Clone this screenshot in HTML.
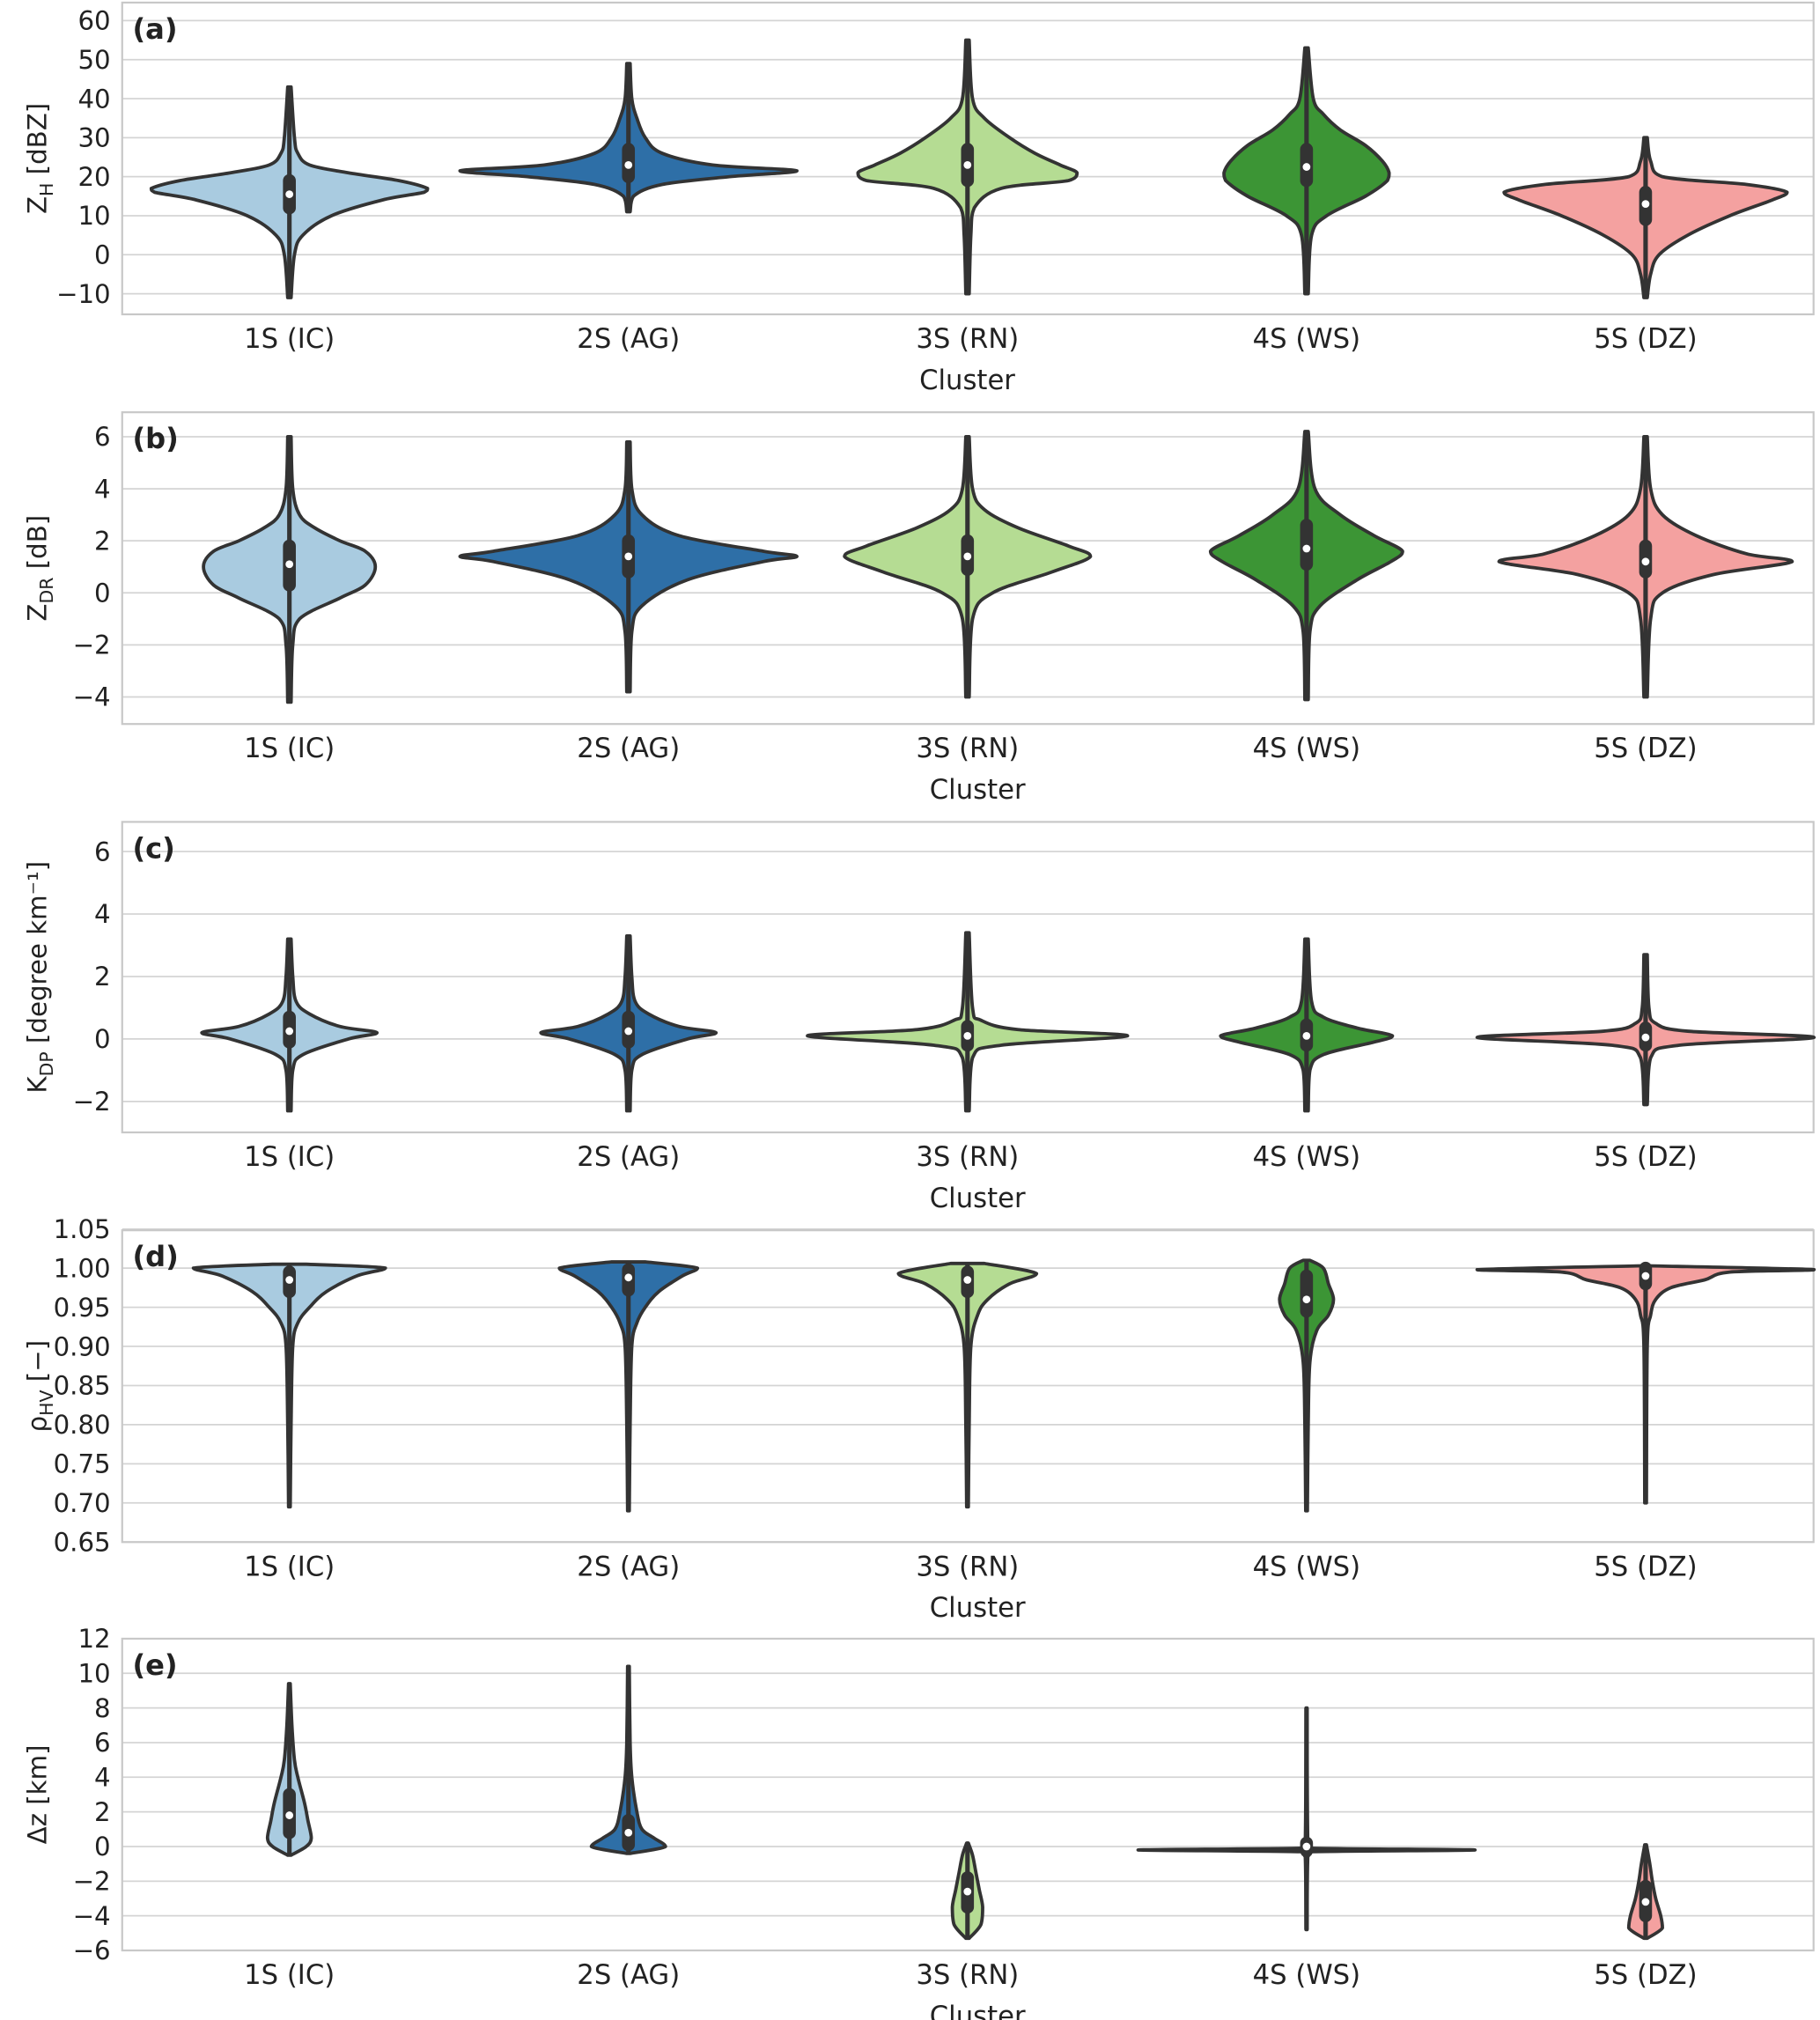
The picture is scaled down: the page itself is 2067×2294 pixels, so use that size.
<!DOCTYPE html>
<html><head><meta charset="utf-8"><style>
html,body{margin:0;padding:0;background:#fff}
svg{display:block}
text{font-family:"DejaVu Sans","Liberation Sans",sans-serif;fill:#222}
</style></head><body>
<svg id="chart" width="2067" height="2294" viewBox="0 0 1415 1568" preserveAspectRatio="none" xmlns="http://www.w3.org/2000/svg"></svg>
<script>
const categories = ["1S (IC)","2S (AG)","3S (RN)","4S (WS)","5S (DZ)"];
const colors = ["#a9cbe0","#2e6fa7","#b5dc93","#3c9535","#f4a1a0"];
const ticksA = [60,50,40,30,20,10,0,-10];
const ticksB = [6,4,2,0,-2,-4];
const ticksC = [6,4,2,0,-2];
const ticksD = [1.05,1.00,0.95,0.90,0.85,0.80,0.75,0.70,0.65];
const ticksE = [12,10,8,6,4,2,0,-2,-4,-6];
const profA = [
 [[-11,.01],[0,.03],[5,.08],[10,.25],[14,.55],[16,.8],[17,.82],[19,.65],[21,.35],[23,.12],[26,.05],[30,.03],[43,.01]],
 [[11,.01],[15,.03],[18,.2],[20,.6],[21.5,1],[23,.5],[26,.2],[30,.1],[35,.05],[40,.02],[49,.01]],
 [[-10,.01],[5,.02],[12,.04],[17,.2],[19,.6],[21,.65],[23,.55],[26,.4],[30,.25],[35,.1],[40,.03],[55,.01]],
 [[-10,.01],[5,.03],[10,.12],[15,.35],[19,.48],[21,.49],[24,.45],[28,.35],[32,.2],[36,.1],[40,.04],[53,.01]],
 [[-11,.01],[-5,.03],[0,.08],[5,.25],[10,.5],[14,.75],[16,.84],[18,.6],[20,.1],[24,.03],[30,.01]]];
const boxA = [[-11,12,15.5,19,43],[11,20,23,27,49],[-10,19,23,27,55],[-10,19,22.5,27,53],[-11,9,13,16,30]];
const profB = [
 [[-4.2,.01],[-2,.02],[-1,.06],[-.2,.3],[.3,.45],[1,.51],[1.6,.45],[2,.3],[2.5,.15],[3,.06],[4,.02],[6,.01]],
 [[-3.8,.01],[-1.5,.02],[-.5,.08],[.5,.35],[1.2,.8],[1.4,1],[1.6,.8],[2.2,.3],[3,.08],[4,.02],[5.8,.01]],
 [[-4,.01],[-1,.03],[0,.15],[.8,.5],[1.4,.73],[1.8,.6],[2.5,.3],[3.2,.1],[4,.03],[6,.01]],
 [[-4.1,.01],[-1.5,.02],[-.5,.08],[.5,.3],[1.2,.5],[1.6,.57],[2.2,.4],[3,.2],[4,.05],[6.2,.01]],
 [[-4,.01],[-1,.03],[0,.1],[.7,.4],[1.2,.87],[1.5,.6],[2.2,.3],[3,.1],[4,.03],[6,.01]]];
const boxB = [[-4.2,.3,1.1,1.8,6],[-3.8,.8,1.4,2,5.8],[-4,.9,1.4,2,6],[-4.1,1.1,1.7,2.6,6.2],[-4,.8,1.2,1.8,6]];
const profC = [
 [[-2.3,.01],[-1,.02],[-.5,.08],[0,.35],[.2,.52],[.4,.3],[.8,.12],[1.2,.04],[2,.02],[3.2,.01]],
 [[-2.3,.01],[-1,.02],[-.5,.08],[0,.35],[.2,.52],[.4,.3],[.8,.12],[1.2,.04],[2,.02],[3.3,.01]],
 [[-2.3,.01],[-.6,.03],[-.2,.2],[.1,.95],[.3,.3],[.6,.08],[1,.03],[3.4,.01]],
 [[-2.3,.01],[-1,.02],[-.5,.1],[-.1,.4],[.1,.51],[.35,.3],[.7,.1],[1.2,.03],[3.2,.01]],
 [[-2.1,.01],[-.6,.03],[-.2,.2],[.05,1],[.25,.25],[.5,.06],[1,.02],[2.7,.01]]];
const boxC = [[-2.3,-.1,.25,.7,3.2],[-2.3,-.1,.25,.7,3.3],[-2.3,-.2,.1,.4,3.4],[-2.3,-.2,.1,.45,3.2],[-2.1,-.2,.05,.35,2.7]];
const profD = [
 [[.695,.005],[.8,.01],[.9,.02],[.93,.05],[.95,.12],[.97,.22],[.99,.4],[1,.57],[1.005,.1]],
 [[.69,.005],[.8,.01],[.9,.02],[.93,.05],[.95,.1],[.97,.18],[.99,.32],[1,.41],[1.008,.1]],
 [[.695,.005],[.8,.01],[.9,.02],[.94,.06],[.96,.12],[.98,.25],[.993,.41],[1.006,.1]],
 [[.69,.005],[.8,.01],[.88,.02],[.92,.06],[.94,.13],[.96,.16],[.98,.13],[1,.1],[1.01,.02]],
 [[.7,.005],[.9,.01],[.94,.03],[.96,.06],[.975,.15],[.985,.35],[.995,.5],[.998,1],[1.003,.02]]];
const boxD = [[.695,.97,.985,.995,1.005],[.69,.972,.988,.998,1.008],[.695,.97,.985,.995,1.006],[.69,.945,.96,.99,1.01],[.7,.98,.99,1,1.003]];
const profE = [
 [[-.5,.01],[0,.1],[.5,.13],[1.5,.11],[2.5,.09],[4,.05],[5,.03],[7,.015],[9.4,.005]],
 [[-.4,.01],[0,.22],[.5,.15],[1,.08],[2,.05],[4,.02],[6,.01],[10.4,.005]],
 [[-5.3,.01],[-4.5,.08],[-3.5,.09],[-2.5,.07],[-1.5,.05],[-.5,.03],[.2,.005]],
 [[-4.8,.003],[-.5,.008],[-.3,.03],[-.2,1],[-.1,.03],[.1,.008],[8,.003]],
 [[-5.3,.01],[-4.7,.1],[-4,.09],[-3,.06],[-2,.04],[-1,.025],[.1,.005]]];
const boxE = [[-.5,.8,1.8,3,9.4],[-.4,.1,.8,1.5,10.4],[-5.3,-3.5,-2.6,-1.8,.2],[-4.8,-.25,0,.2,8],[-5.3,-4,-3.2,-2.3,.1]];

const panels = [
 {id:"a",top:2,bot:244,v1:60,p1:16,v2:-10,p2:228,ticks:ticksA,fmt:v=>v<0?"\u2212"+(-v):""+v,prof:profA,box:boxA,ylab:["Z","H"," [dBZ]"]},
 {id:"b",top:320,bot:562,v1:6,p1:339,v2:-4,p2:541,ticks:ticksB,fmt:v=>v<0?"\u2212"+(-v):""+v,prof:profB,box:boxB,ylab:["Z","DR"," [dB]"]},
 {id:"c",top:638,bot:879,v1:6,p1:661,v2:-2,p2:855,ticks:ticksC,fmt:v=>v<0?"\u2212"+(-v):""+v,prof:profC,box:boxC,ylab:["K","DP"," [degree km\u207B\u00B9]"]},
 {id:"d",top:955,bot:1197,v1:1.05,p1:954,v2:0.65,p2:1197,ticks:ticksD,fmt:v=>v.toFixed(2),prof:profD,box:boxD,ylab:["\u03C1","HV"," [\u2212]"]},
 {id:"e",top:1272,bot:1514,v1:12,p1:1272,v2:-6,p2:1514,ticks:ticksE,fmt:v=>v<0?"\u2212"+(-v):""+v,prof:profE,box:boxE,ylab:["\u0394z [km]","",""]}
];
const svg=document.getElementById("chart");
const NS="http://www.w3.org/2000/svg";
function mk(t,a,p){const e=document.createElementNS(NS,t);for(const k in a)e.setAttribute(k,a[k]);(p||svg).appendChild(e);return e;}
const X0=95,X1=1410;
const xScale=i=>225+i*263.6;
const HW=131;
function clamp(v,a,b){const lo=Math.min(a,b),hi=Math.max(a,b);return Math.max(lo,Math.min(hi,v));}
function smooth(pts){
 let d="M"+pts[0][0]+","+pts[0][1];
 for(let i=0;i<pts.length-1;i++){
  const p0=pts[Math.max(0,i-1)],p1=pts[i],p2=pts[i+1],p3=pts[Math.min(pts.length-1,i+2)];
  const c1=[clamp(p1[0]+(p2[0]-p0[0])/6,p1[0],p2[0]),p1[1]+(p2[1]-p0[1])/6];
  const c2=[clamp(p2[0]-(p3[0]-p1[0])/6,p1[0],p2[0]),p2[1]-(p3[1]-p1[1])/6];
  d+=" C"+c1[0]+","+c1[1]+" "+c2[0]+","+c2[1]+" "+p2[0]+","+p2[1];
 }
 return d;
}
panels.forEach(P=>{
 const y=v=>P.p1+(v-P.v1)*(P.p2-P.p1)/(P.v2-P.v1);
 const g=mk("g",{});
 
 
 P.ticks.forEach(t=>{
  const l=mk("line",{x1:X0,x2:X1,y1:y(t),y2:y(t),stroke:"#d4d4d4","stroke-width":1.2},g);
  
  
  const tx=mk("text",{x:86,y:y(t)+7,"text-anchor":"end","font-size":20},g);
  tx.textContent=P.fmt(t);
  
  
 });
 const fr=mk("rect",{x:X0,y:P.top,width:X1-X0,height:P.bot-P.top,fill:"none",stroke:"#c8c8c8","stroke-width":1.5},g);
 
 
 const lt=mk("text",{x:103,y:P.top+28,"font-size":22,"font-weight":"bold"},g);
 lt.textContent="("+P.id+")";
 
 
 const cy=(P.top+P.bot)/2;
 const yl=mk("text",{transform:"translate(36,"+cy+") rotate(-90)","text-anchor":"middle","font-size":20},g);
 
 
 const s1=mk("tspan",{},yl);s1.textContent=P.ylab[0];
 if(P.ylab[1]){const s2=mk("tspan",{"font-size":14,dy:5},yl);s2.textContent=P.ylab[1];
  const s3=mk("tspan",{dy:-5},yl);s3.textContent=P.ylab[2];}
 categories.forEach((c,i)=>{
  const cx=xScale(i);
  const pr=P.prof[i];
  const right=pr.map(p=>[cx+p[1]*HW,y(p[0])]);
  const left=pr.slice().reverse().map(p=>[cx-p[1]*HW,y(p[0])]);
  const d=smooth(right)+" L"+left[0][0]+","+left[0][1]+smooth(left).replace(/^M[^C]*/," ")+" Z";
  const v=mk("path",{d:d,fill:colors[i],stroke:"#333","stroke-width":2.6,"stroke-linejoin":"round"},g);
  
  
  const b=P.box[i];
  const w=mk("line",{x1:cx,x2:cx,y1:y(b[0]),y2:y(b[4]),stroke:"#333","stroke-width":3.5},g);
  
  
  const bx=mk("line",{x1:cx,x2:cx,y1:y(b[1]),y2:y(b[3]),stroke:"#333","stroke-width":10,"stroke-linecap":"round"},g);
  
  
  const m=mk("circle",{cx:cx,cy:y(b[2]),r:3,fill:"#fff"},g);
  
  
  const xl=mk("text",{x:cx,y:P.bot+26,"text-anchor":"middle","font-size":21},g);
  xl.textContent=c;
  
  
 });
 const xt=mk("text",{x:P.id==="a"?752:760,y:P.bot+58,"text-anchor":"middle","font-size":21},g);
 xt.textContent="Cluster";
 
 
});
</script>
</body></html>
